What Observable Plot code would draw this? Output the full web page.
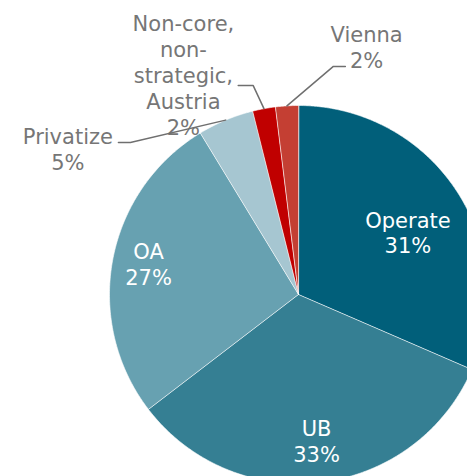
<!DOCTYPE html>
<html>
<head>
<meta charset="utf-8">
<script src="https://cdn.jsdelivr.net/npm/d3@7"></script>
<script src="https://cdn.jsdelivr.net/npm/@observablehq/plot@0.6"></script>
<style>
  html, body { margin: 0; padding: 0; background: #fff; overflow: hidden; }
</style>
</head>
<body>
<div id="chart"></div>
<script>
// ---- data ----
const categories = ["Operate", "UB", "OA", "Privatize", "Non-core,\nnon-\nstrategic,\nAustria", "Vienna"];
// slice shares (labels show rounded values)
const shares = [31.5, 33.1, 26.7, 4.8, 1.95, 1.95];
const shareLabels = ["31%", "33%", "27%", "5%", "2%", "2%"];
const colors = ["#015F7A", "#357F93", "#67A1B1", "#A6C6D1", "#C00000", "#C43F33"];

// ---- layout ----
const W = 467, H = 476;
const R = 189, CX = 298, CY = 294;
const FONT = "DejaVu Sans, Verdana, sans-serif";
// label placement: radius factor and angle offset (deg) from slice mid-angle
const labelPlace = [
  {r: 0.666, da: 3.7, inside: true},
  {r: 0.780, da: 0.0, inside: true},
  {r: 0.810, da: 1.0, inside: true},
  {r: 1.444, da: -35.0, inside: false},
  {r: 1.313, da: -17.1, inside: false},
  {r: 1.359, da: 18.9, inside: false}
];
// leader lines for outside labels: elbow (radius factor, angle offset) + horizontal tail (px)
const leaderPlace = {
  3: {r: 1.199, da: -25.2, tail: -12},
  4: {r: 1.131, da: -1.7, tail: -15},
  5: {r: 1.221, da: 12.2, tail: 12}
};

const arcs = d3.pie().sort(null).value(d => d)(shares);
const toRad = d => d * Math.PI / 180;
const pt = (a, r) => [r * Math.sin(a), r * Math.cos(a)];

// slice polygons
const slicePts = [];
arcs.forEach((a, i) => {
  const name = categories[i];
  slicePts.push({name, x: 0, y: 0});
  const n = Math.max(4, Math.ceil((a.endAngle - a.startAngle) / toRad(0.5)));
  for (let k = 0; k <= n; k++) {
    const ang = a.startAngle + (a.endAngle - a.startAngle) * k / n;
    const [x, y] = pt(ang, 1);
    slicePts.push({name, x, y});
  }
});

// labels
const labels = arcs.map((a, i) => {
  const mid = (a.startAngle + a.endAngle) / 2;
  const p = labelPlace[i];
  const [x, y] = pt(mid + toRad(p.da), p.r);
  return {x, y, text: categories[i] + "\n" + shareLabels[i], inside: p.inside};
});

// leader lines
const leaderPts = [];
Object.entries(leaderPlace).forEach(([idx, L]) => {
  const a = arcs[+idx];
  const mid = (a.startAngle + a.endAngle) / 2;
  const [x0, y0] = pt(mid, 1);
  const [x1, y1] = pt(mid + toRad(L.da), L.r);
  const x2 = x1 + L.tail / R;
  leaderPts.push({id: idx, x: x0, y: y0}, {id: idx, x: x1, y: y1}, {id: idx, x: x2, y: y1});
});

const chart = Plot.plot({
  width: W,
  height: H,
  margin: 0,
  style: {background: "#fff", overflow: "hidden"},
  x: {domain: [-CX / R, (W - CX) / R], axis: null},
  y: {domain: [-(H - CY) / R, CY / R], axis: null},
  color: {domain: categories, range: colors},
  marks: [
    Plot.line(slicePts, {x: "x", y: "y", z: "name", fill: "name", stroke: "#ffffff", strokeWidth: 0.6, curve: "linear-closed", clip: true}),
    Plot.text(labels.filter(d => d.inside), {x: "x", y: "y", text: "text", fill: "#ffffff", fontSize: 21, lineHeight: 1.23, fontFamily: FONT}),
    Plot.text(labels.filter(d => !d.inside), {x: "x", y: "y", text: "text", fill: "#767676", fontSize: 21, lineHeight: 1.23, fontFamily: FONT}),
    Plot.line(leaderPts, {x: "x", y: "y", z: "id", stroke: "#6f6f6f", strokeWidth: 1.5})
  ]
});
document.getElementById("chart").appendChild(chart);
</script>
</body>
</html>
